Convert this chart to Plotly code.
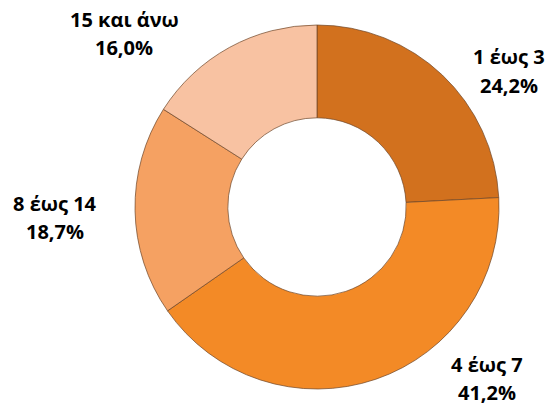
import plotly.graph_objects as go

categories = ["1 έως 3", "4 έως 7", "8 έως 14", "15 και άνω"]
values = [24.2, 41.2, 18.7, 16.0]
colors = ["#D2711E", "#F38A26", "#F5A162", "#F8C2A2"]

# label anchor positions in pixels: (x center, line1 y center, line2 y center)
label_px = [(509, 55, 84), (487, 363, 391), (55, 203, 230), (124, 19, 46)]

W, H = 555, 403
OFF = 8  # page body margin
cx, cy, r = 317 - OFF, 207 - OFF, 182

fig = go.Figure(go.Pie(
    labels=categories,
    values=values,
    hole=0.49,
    sort=False,
    direction="clockwise",
    rotation=0,
    textinfo="none",
    hoverinfo="label+percent",
    marker=dict(colors=colors, line=dict(color="rgba(110,70,40,0.7)", width=1)),
    domain=dict(x=[(cx - r) / W, (cx + r) / W], y=[1 - (cy + r) / H, 1 - (cy - r) / H]),
    showlegend=False,
))

font = dict(family="Open Sans", size=20, color="#000000", weight="bold")
for cat, val, (px, py1, py2) in zip(categories, values, label_px):
    pct = f"{val:.1f}%".replace(".", ",")
    for txt, py in ((cat, py1), (pct, py2)):
        fig.add_annotation(
            x=(px - OFF) / W, y=1 - (py - OFF + 1) / H, xref="paper", yref="paper",
            text=txt, showarrow=False, xanchor="center", yanchor="middle",
            font=font, align="center",
        )

fig.update_layout(
    width=W, height=H,
    margin=dict(l=0, r=0, t=0, b=0),
    paper_bgcolor="white", plot_bgcolor="white",
)

fig.write_html("out.html")
